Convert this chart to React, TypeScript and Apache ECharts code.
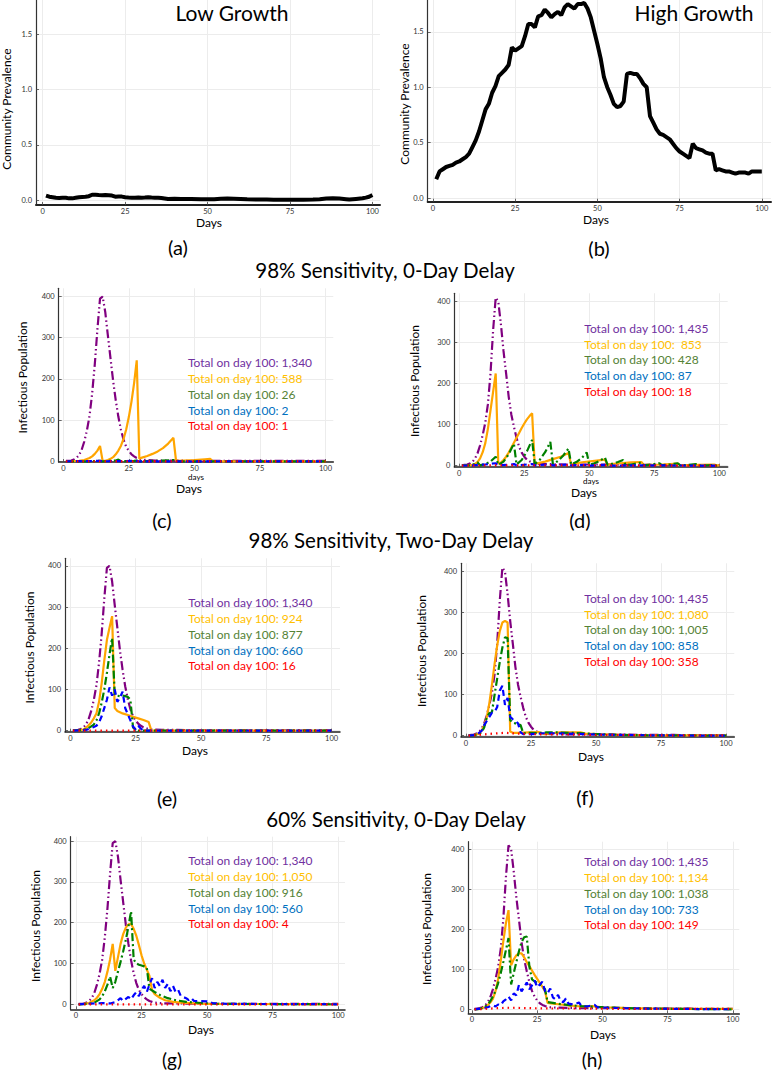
import React, { useEffect, useRef } from "react";
import * as echarts from "echarts";

const FONT = "Lato, 'Open Sans', sans-serif";

// ---------- tick values ----------
const xTicks = [0, 25, 50, 75, 100];
const prevTicks = [0, 0.5, 1.0, 1.5];
const infTicks = [0, 100, 200, 300, 400];

// ---------- community prevalence ----------
const lowGrowth: [number, number][] = [[1,0.04],[2,0.03],[3,0.025],[4,0.02],[5,0.018],[6,0.02],[7,0.02],[8,0.015],[9,0.015],[10,0.02],[11,0.025],[12,0.028],[13,0.03],[14,0.035],[15,0.048],[16,0.047],[17,0.045],[18,0.044],[19,0.045],[20,0.043],[21,0.04],[22,0.03],[23,0.032],[24,0.031],[25,0.025],[26,0.022],[27,0.02],[28,0.02],[29,0.022],[30,0.02],[31,0.022],[32,0.025],[33,0.022],[34,0.02],[35,0.02],[36,0.018],[37,0.014],[38,0.01],[40,0.011],[42,0.01],[45,0.01],[48,0.007],[50,0.006],[52,0.008],[54,0.012],[56,0.014],[58,0.012],[60,0.01],[62,0.007],[65,0.005],[68,0.004],[70,0.003],[73,0.003],[76,0.003],[79,0.002],[82,0.004],[84,0.008],[86,0.014],[88,0.016],[90,0.014],[92,0.008],[93,0.004],[95,0.01],[97,0.016],[98,0.022],[99,0.03],[100,0.045]];
const highGrowth: [number, number][] = [[1,0.17],[2,0.24],[3,0.26],[4,0.28],[5,0.29],[6,0.30],[7,0.32],[8,0.33],[9,0.35],[10,0.37],[11,0.40],[12,0.46],[13,0.52],[14,0.60],[15,0.70],[16,0.80],[17,0.85],[18,0.95],[19,1.01],[20,1.10],[21,1.13],[22,1.16],[23,1.20],[24,1.36],[25,1.33],[26,1.35],[27,1.37],[28,1.46],[29,1.57],[30,1.57],[31,1.54],[32,1.64],[33,1.65],[34,1.70],[35,1.67],[36,1.63],[37,1.66],[38,1.68],[39,1.65],[40,1.72],[41,1.75],[42,1.73],[43,1.71],[44,1.75],[45,1.75],[46,1.76],[47,1.71],[48,1.63],[49,1.51],[50,1.39],[51,1.26],[52,1.09],[53,1.00],[54,0.93],[55,0.85],[56,0.82],[57,0.83],[58,0.87],[59,1.12],[60,1.13],[61,1.12],[62,1.12],[63,1.08],[64,1.03],[65,1.00],[66,0.74],[67,0.68],[68,0.62],[69,0.58],[70,0.57],[71,0.55],[72,0.53],[73,0.49],[74,0.45],[75,0.42],[76,0.40],[77,0.38],[78,0.36],[79,0.49],[80,0.45],[81,0.44],[82,0.43],[83,0.41],[84,0.40],[85,0.40],[86,0.25],[87,0.26],[88,0.25],[89,0.24],[90,0.24],[91,0.23],[92,0.22],[93,0.23],[94,0.23],[95,0.23],[96,0.22],[97,0.24],[98,0.24],[99,0.24],[100,0.24]];

// ---------- baseline (no testing) curves ----------
const purpleLow: [number, number][] = [[1,1],[2,1],[3,2],[4,4],[5,8],[6,15],[7,28],[8,48],[9,75],[10,110],[11,165],[12,235],[13,320],[14,395],[15,400],[16,362],[17,305],[18,250],[19,195],[20,148],[21,108],[22,76],[23,52],[24,35],[25,25],[26,17],[27,12],[28,8],[29,6],[30,4],[32,3],[35,2],[40,2],[50,1],[60,1],[70,1],[80,1],[90,1],[100,1]];
const purpleHigh: [number, number][] = [[1,1],[2,2],[3,3],[4,5],[5,9],[6,17],[7,30],[8,50],[9,75],[10,105],[11,150],[12,225],[13,330],[14,410],[15,400],[16,345],[17,280],[18,225],[19,168],[20,125],[21,95],[22,68],[23,46],[24,32],[25,22],[26,15],[27,11],[28,8],[30,5],[33,4],[40,3],[50,3],[60,3],[70,2],[80,2],[90,1],[100,1]];

// ---------- (c) 98% sensitivity, 0-day delay, low growth ----------
const orangeC: [number, number][] = [[1,0],[6,1],[8,3],[10,8],[11,12],[12,18],[13,26],[14,37],[15,1],[16,1],[17,3],[18,6],[19,10],[20,17],[21,26],[22,38],[23,55],[24,78],[25,108],[26,145],[27,190],[28,245],[29,6],[30,9],[32,13],[34,18],[36,24],[38,32],[40,43],[42,57],[43,1],[46,2],[50,3],[54,5],[56,6],[57,0],[100,0]];
const greenC: [number, number][] = [[1,0],[10,0],[14,1],[15,0],[20,2],[21,4],[22,0],[27,1],[28,2],[29,0],[35,1],[42,3],[43,0],[100,0]];
const blueC: [number, number][] = [[1,0],[14,1],[15,0],[28,1],[29,0],[100,0]];
const redC: [number, number][] = [[1,0],[100,0]];

// ---------- (d) 98% sensitivity, 0-day delay, high growth ----------
const orangeD: [number, number][] = [[1,0],[4,1],[5,2],[6,4],[7,9],[8,18],[9,33],[10,55],[11,90],[12,135],[13,180],[14,225],[15,5],[16,8],[17,14],[18,22],[19,32],[20,44],[21,56],[22,68],[23,80],[24,92],[25,103],[26,113],[27,121],[28,128],[29,3],[30,6],[33,10],[36,16],[39,22],[42,31],[43,2],[44,5],[48,9],[52,12],[56,15],[57,1],[58,4],[62,6],[66,8],[70,9],[71,1],[72,2],[78,3],[84,5],[85,1],[86,1],[92,2],[98,3],[99,1],[100,1]];
const greenD: [number, number][] = [[1,0],[4,1],[6,4],[7,8],[8,1],[10,4],[12,10],[14,22],[15,2],[17,10],[19,28],[21,54],[22,3],[24,14],[26,35],[28,63],[29,4],[31,15],[33,33],[35,58],[36,3],[38,12],[40,25],[42,42],[43,3],[45,9],[47,18],[49,32],[50,2],[52,6],[54,12],[56,20],[57,2],[59,5],[61,9],[63,14],[64,1],[66,3],[68,5],[70,8],[71,1],[74,3],[77,6],[78,1],[81,3],[84,6],[85,1],[88,2],[91,4],[92,0],[95,1],[98,2],[99,0],[100,0]];
const blueD: [number, number][] = [[1,0],[5,1],[10,3],[14,6],[15,1],[20,3],[21,4],[22,1],[28,4],[29,1],[35,3],[36,1],[42,3],[43,1],[49,2],[50,0],[56,2],[57,0],[70,1],[100,0]];
const redD: [number, number][] = [[1,0],[14,1],[28,1],[100,0]];

// ---------- (e) 98% sensitivity, two-day delay, low growth ----------
const orangeE: [number, number][] = [[1,0],[3,1],[5,3],[6,7],[7,13],[8,20],[9,30],[10,42],[11,70],[12,115],[13,170],[14,220],[15,250],[16,278],[17,55],[18,48],[19,45],[20,42],[22,38],[24,34],[26,30],[28,26],[30,21],[31,1],[32,0],[100,0]];
const greenE: [number, number][] = [[1,0],[5,2],[7,6],[9,15],[10,25],[11,42],[12,68],[13,100],[14,140],[15,185],[16,225],[17,88],[18,85],[19,84],[20,85],[21,84],[22,82],[23,75],[24,8],[25,2],[26,0],[100,0]];
const blueE: [number, number][] = [[1,0],[6,2],[8,6],[10,12],[11,20],[12,35],[13,55],[14,75],[15,105],[16,85],[17,100],[18,70],[19,80],[20,95],[21,55],[22,40],[23,25],[24,10],[25,3],[26,12],[27,5],[28,0],[100,0]];
const redE: [number, number][] = [[1,0],[100,0]];

// ---------- (f) 98% sensitivity, two-day delay, high growth ----------
const orangeF: [number, number][] = [[1,0],[3,1],[5,5],[6,12],[7,25],[8,45],[9,80],[10,125],[11,175],[12,220],[13,255],[14,276],[15,280],[16,276],[17,10],[18,7],[20,7],[24,8],[28,9],[30,4],[33,6],[36,8],[40,8],[44,8],[46,5],[50,4],[55,3],[60,2],[70,1],[100,1]];
const greenF: [number, number][] = [[1,0],[3,1],[5,4],[6,8],[7,20],[8,45],[9,55],[10,58],[11,100],[12,140],[13,180],[14,215],[15,240],[16,238],[17,38],[18,32],[19,30],[20,28],[21,26],[22,6],[25,7],[28,6],[31,8],[35,8],[40,7],[45,6],[50,4],[55,3],[60,2],[70,1],[80,1],[100,0]];
const blueF: [number, number][] = [[1,0],[4,2],[6,12],[7,26],[8,36],[9,46],[10,56],[11,58],[12,70],[13,110],[14,122],[15,75],[16,92],[17,46],[18,40],[19,36],[20,30],[21,8],[22,4],[25,4],[30,6],[35,6],[40,5],[45,4],[50,3],[60,2],[70,1],[100,0]];
const redF: [number, number][] = [[1,0],[5,2],[10,5],[15,7],[20,5],[25,4],[30,3],[40,3],[50,2],[60,2],[70,1],[80,1],[100,1]];

// ---------- (g) 60% sensitivity, 0-day delay, low growth ----------
const orangeG: [number, number][] = [[1,0],[3,1],[5,3],[7,10],[8,16],[9,25],[10,38],[11,55],[12,80],[13,110],[14,148],[15,82],[16,115],[17,148],[18,172],[19,188],[20,196],[21,197],[22,185],[23,168],[24,145],[25,120],[26,100],[27,85],[28,70],[29,35],[30,25],[32,16],[34,10],[37,6],[40,4],[45,2],[50,1],[100,0]];
const greenG: [number, number][] = [[1,0],[5,1],[7,4],[9,12],[10,20],[11,32],[12,48],[13,68],[14,40],[15,55],[16,80],[17,104],[18,130],[19,158],[20,190],[21,228],[22,110],[23,100],[24,97],[25,95],[26,93],[27,90],[28,38],[30,30],[32,23],[35,15],[38,10],[42,6],[48,3],[55,1],[100,0]];
const blueG: [number, number][] = [[1,0],[10,3],[13,2],[15,5],[17,15],[18,8],[20,18],[21,12],[22,22],[23,30],[24,20],[25,35],[26,45],[27,30],[28,48],[29,64],[30,40],[31,55],[32,45],[33,60],[34,40],[35,50],[36,32],[37,45],[38,30],[39,35],[40,20],[42,15],[43,10],[44,15],[45,8],[47,8],[50,7],[52,3],[55,2],[58,1],[100,0]];
const redG: [number, number][] = [[1,0],[100,0]];

// ---------- (h) 60% sensitivity, 0-day delay, high growth ----------
const orangeH: [number, number][] = [[1,0],[3,1],[5,5],[6,10],[7,17],[8,26],[9,45],[10,75],[11,120],[12,170],[13,215],[14,248],[15,110],[16,125],[17,135],[18,140],[19,140],[20,130],[21,118],[22,108],[23,97],[24,86],[25,76],[26,66],[27,56],[28,45],[29,16],[31,14],[34,12],[38,9],[42,7],[46,8],[50,5],[55,4],[60,3],[70,2],[80,1],[100,1]];
const greenH: [number, number][] = [[1,0],[3,1],[5,6],[6,12],[7,20],[8,32],[9,46],[10,65],[11,90],[12,118],[13,148],[14,178],[15,62],[16,90],[17,118],[18,145],[19,168],[20,180],[21,182],[22,107],[23,75],[24,70],[25,66],[26,62],[27,58],[28,50],[29,18],[31,16],[34,13],[38,10],[42,8],[48,6],[55,4],[65,2],[80,1],[100,0]];
const blueH: [number, number][] = [[1,0],[4,2],[6,5],[8,10],[9,7],[10,12],[11,10],[12,20],[13,25],[14,32],[15,22],[16,40],[17,35],[18,61],[19,45],[20,55],[21,67],[22,50],[23,60],[24,72],[25,55],[26,62],[27,69],[28,45],[29,40],[30,52],[31,30],[32,25],[33,36],[34,20],[35,18],[36,27],[37,14],[39,12],[41,17],[42,8],[44,7],[47,11],[48,5],[52,4],[58,3],[65,2],[80,1],[100,0]];
const redH: [number, number][] = [[1,0],[5,1],[10,3],[15,4],[20,3],[30,2],[40,2],[60,1],[100,1]];

// ---------- annotation totals (purple, orange, green, blue, red) ----------
const totalsC = ["1,340", "588", "26", "2", "1"];
const totalsD = ["1,435", " 853", "428", "87", "18"];
const totalsE = ["1,340", "924", "877", "660", "16"];
const totalsF = ["1,435", "1,080", "1,005", "858", "358"];
const totalsG = ["1,340", "1,050", "916", "560", "4"];
const totalsH = ["1,435", "1,134", "1,038", "733", "149"];

// ---------- styles ----------
const LINE_COLORS = ["#800080", "#FFA500", "#008000", "#0000FF", "#FF0000"];
const TEXT_COLORS = ["#7030A0", "#FFC000", "#548235", "#0070C0", "#FF0000"];
const DASHES: any[] = [[9, 3, 1.5, 3, 1.5, 3], "solid", [8, 3, 2, 3], [6, 4], [1.5, 4]];

type Panel = {
  rect: [number, number, number, number];
  xr: [number, number];
  yr: [number, number];
  prevalence?: [number, number][];
  series?: [number, number][][];
  totals?: string[];
  legendPos?: [number, number];
};

const PANELS: Panel[] = [
  { rect: [36, 0, 344, 205], xr: [-2.03, 102.3], yr: [-0.045, 1.81], prevalence: lowGrowth },
  { rect: [427.7, 0, 343.3, 201.7], xr: [-1.6, 102.8], yr: [-0.033, 1.787], prevalence: highGrowth },
  { rect: [58.7, 288.3, 274.6, 173.7], xr: [-1.76, 102.97], yr: [-1.7, 420], series: [purpleLow, orangeC, greenC, blueC, redC], totals: totalsC, legendPos: [188, 362.7] },
  { rect: [454.3, 293.3, 273.4, 173.4], xr: [-1.92, 103.2], yr: [-2.4, 420.5], series: [purpleHigh, orangeD, greenD, blueD, redD], totals: totalsD, legendPos: [584.3, 328.3] },
  { rect: [65, 558.3, 275, 173.4], xr: [-2.03, 103.2], yr: [-2.4, 418.4], series: [purpleLow, orangeE, greenE, blueE, redE], totals: totalsE, legendPos: [188.3, 602.7] },
  { rect: [461, 563.3, 273.3, 173.4], xr: [-1.92, 103.2], yr: [-2.4, 420.5], series: [purpleHigh, orangeF, greenF, blueF, redF], totals: totalsF, legendPos: [584.3, 598.3] },
  { rect: [70.7, 836.7, 274.3, 172.6], xr: [-2.02, 102.6], yr: [-12.3, 410.8], series: [purpleLow, orangeG, greenG, blueG, redG], totals: totalsG, legendPos: [188.3, 860.7] },
  { rect: [468.3, 841.7, 271, 171.6], xr: [-1.42, 102.5], yr: [-10, 419], series: [purpleHigh, orangeH, greenH, blueH, redH], totals: totalsH, legendPos: [584.3, 861.7] },
];

type Txt = { t: string; x: number; y: number; size: number; rot?: boolean };
const TEXTS: Txt[] = [
  { t: "Low Growth", x: 232, y: 12.8, size: 21 },
  { t: "High Growth", x: 694, y: 12.8, size: 21 },
  { t: "(a)", x: 178, y: 247, size: 20 },
  { t: "(b)", x: 599, y: 248, size: 20 },
  { t: "98% Sensitivity, 0-Day Delay", x: 385, y: 270, size: 20.5 },
  { t: "(c)", x: 162, y: 520, size: 20 },
  { t: "(d)", x: 580, y: 520, size: 20 },
  { t: "98% Sensitivity, Two-Day Delay", x: 391, y: 540, size: 20.5 },
  { t: "(e)", x: 167, y: 798, size: 20 },
  { t: "(f)", x: 585, y: 797, size: 20 },
  { t: "60% Sensitivity, 0-Day Delay", x: 396, y: 818.5, size: 20.5 },
  { t: "(g)", x: 172, y: 1059.3, size: 19 },
  { t: "(h)", x: 592, y: 1059.3, size: 19 },
  { t: "Days", x: 209, y: 222, size: 12 },
  { t: "Days", x: 596, y: 219, size: 12 },
  { t: "Days", x: 189, y: 488, size: 12 },
  { t: "Days", x: 584, y: 492.6, size: 12 },
  { t: "Days", x: 195, y: 750, size: 12 },
  { t: "Days", x: 591, y: 756, size: 12 },
  { t: "Days", x: 201, y: 1029, size: 12 },
  { t: "Days", x: 603, y: 1034, size: 12 },
  { t: "days", x: 196, y: 477, size: 8 },
  { t: "days", x: 591, y: 481.4, size: 8 },
  { t: "Community Prevalence", x: 6.5, y: 109, size: 12, rot: true },
  { t: "Community Prevalence", x: 404, y: 104, size: 12, rot: true },
  { t: "Infectious Population", x: 22, y: 377.5, size: 12, rot: true },
  { t: "Infectious Population", x: 414, y: 381, size: 12, rot: true },
  { t: "Infectious Population", x: 29, y: 647.5, size: 12, rot: true },
  { t: "Infectious Population", x: 421, y: 651, size: 12, rot: true },
  { t: "Infectious Population", x: 35, y: 926, size: 12, rot: true },
  { t: "Infectious Population", x: 426, y: 929, size: 12, rot: true },
];

const LEGEND_STEP = 15.8;
const LEGEND_SIZE = 12;

function buildOption() {
  const grid: any[] = [];
  const xAxis: any[] = [];
  const yAxis: any[] = [];
  const series: any[] = [];
  const graphic: any[] = [];

  PANELS.forEach((p, i) => {
    const isPrev = !!p.prevalence;
    grid.push({ left: p.rect[0], top: p.rect[1], width: p.rect[2], height: p.rect[3], containLabel: false });
    const yTicks = isPrev ? prevTicks : infTicks;
    xAxis.push({
      type: "value", gridIndex: i, min: p.xr[0], max: p.xr[1],
      axisLine: { show: true, onZero: false, lineStyle: { color: "#222", width: isPrev ? 2 : 1.5 } },
      axisTick: { show: true, inside: true, length: 3, customValues: xTicks, lineStyle: { color: "#444", width: 0.8 } },
      axisLabel: { customValues: xTicks, fontSize: 7.5, color: "#333", margin: 2.5, fontFamily: FONT, lineHeight: 8 },
      splitLine: { show: true, lineStyle: { color: "#ececec", width: 1 } },
    });
    yAxis.push({
      type: "value", gridIndex: i, min: p.yr[0], max: p.yr[1],
      axisLine: { show: true, onZero: false, lineStyle: { color: "#333", width: 1.2 } },
      axisTick: { show: true, inside: true, length: 3, customValues: yTicks, lineStyle: { color: "#444", width: 0.8 } },
      axisLabel: {
        customValues: yTicks, fontSize: 7.5, color: "#333", margin: 4, fontFamily: FONT,
        formatter: (v: number) => (isPrev ? v.toFixed(1) : String(Math.round(v))),
      },
      splitLine: { show: true, lineStyle: { color: "#ececec", width: 1 } },
    });
    if (isPrev) {
      series.push({
        type: "line", xAxisIndex: i, yAxisIndex: i, data: p.prevalence, symbol: "none",
        lineStyle: { color: "#000", width: 4 }, silent: true,
      });
    } else {
      p.series!.forEach((d, k) => {
        series.push({
          type: "line", xAxisIndex: i, yAxisIndex: i, data: d, symbol: "none",
          lineStyle: { color: LINE_COLORS[k], width: 2.2, type: DASHES[k] }, silent: true, z: 2 + k,
        });
      });
      p.totals!.forEach((t, k) => {
        graphic.push({
          type: "text", x: p.legendPos![0], y: p.legendPos![1] + k * LEGEND_STEP, silent: true, z: 100,
          style: { text: "Total on day 100: " + t, fill: TEXT_COLORS[k], fontSize: LEGEND_SIZE, fontFamily: FONT, align: "left", verticalAlign: "middle" },
        });
      });
    }
  });

  TEXTS.forEach((tx) => {
    graphic.push({
      type: "text", x: tx.x, y: tx.y, rotation: tx.rot ? Math.PI / 2 : 0, silent: true, z: 100,
      style: { text: tx.t, fill: "#000", fontSize: tx.size, fontFamily: FONT, align: "center", verticalAlign: "middle" },
    });
  });

  return {
    animation: false,
    backgroundColor: "#fff",
    grid, xAxis, yAxis, series, graphic,
  };
}

export default function App() {
  const ref = useRef<HTMLDivElement>(null);
  useEffect(() => {
    const chart = echarts.init(ref.current!, null, { renderer: "svg" });
    chart.setOption(buildOption() as any);
    return () => chart.dispose();
  }, []);
  return <div ref={ref} style={{ position: "absolute", left: 0, top: 0, width: 772, height: 1071, background: "#fff" }} />;
}
